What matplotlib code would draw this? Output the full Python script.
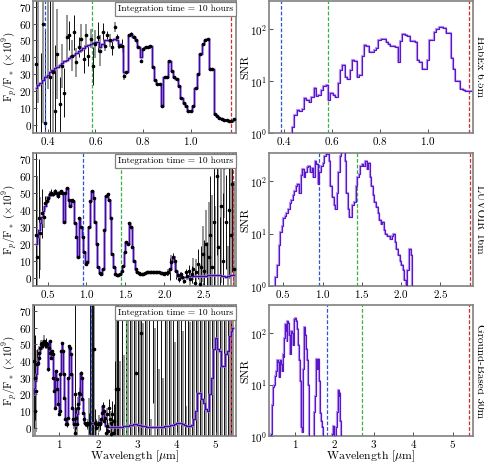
import numpy as np
import matplotlib
matplotlib.use('Agg')
import matplotlib.pyplot as plt
from matplotlib.ticker import NullLocator, FixedLocator

plt.rcParams.update({
    'font.family': 'serif',
    'font.serif': ['cmr10', 'DejaVu Serif'],
    'mathtext.fontset': 'cm',
    'axes.formatter.use_mathtext': True,
    'axes.unicode_minus': False,
    'font.size': 9,
})

# ---------------- HabEx 6.5m (bins from 0.35 um, 0.01 um wide) ----------------
hab_start, hab_step = 0.35, 0.01
hab_flux = [22, 23.5, 25, 26.5, 28, 29.5, 31, 32.5, 33.5, 34.5,
            35.5, 36.5, 37.5, 38.5, 39.5, 40.5, 41.5, 42.5, 43.5, 44.5,
            45.5, 46.5, 47.3, 48, 48.5, 49, 49, 46, 48, 50,
            50, 49.5, 50.5, 51, 50, 48, 47, 31, 31, 53,
            54, 52, 50, 46, 40, 45, 46, 46, 46.5, 34.5,
            26.5, 24, 24, 11, 28, 28, 38, 32, 28, 27,
            23, 16, 13, 11, 8, 8, 11, 22, 30, 42,
            48, 50.5, 51, 33, 33, 6, 5, 4, 3.5, 3,
            2.5, 2, 2, 3.5]
hab_snr = [0.3, 0.35, 0.4, 0.45, 0.5, 0.55, 0.6, 0.7, 0.85, 1.3,
           2.2, 2.8, 2.6, 2.9, 4.7, 4.3, 4.0, 5.0, 7.3, 5.2,
           5.5, 6.8, 8.0, 8.4, 4.3, 6.0, 5.5, 5.0, 9.0, 16,
           20, 12, 11, 16, 26, 24, 12, 13, 30, 50,
           48, 37, 36, 40, 44, 63, 65, 64, 57, 52,
           48, 48, 46, 23, 60, 80, 78, 75, 60, 58,
           57, 25, 23, 17, 17, 25, 62, 62, 90, 100,
           110, 108, 105, 85, 85, 28, 17, 10, 10, 7,
           6.6, 6.5, 6.5, 6.5]
hab_noisy_wl = [0.35, 0.36, 0.37, 0.38, 0.39, 0.40, 0.41, 0.42, 0.43, 0.44,
                0.45, 0.46, 0.47, 0.48, 0.49, 0.50, 0.51, 0.52, 0.53, 0.54,
                0.55, 0.56, 0.57, 0.58, 0.59, 0.60, 0.61, 0.62, 0.63, 0.64,
                0.65, 0.66, 0.67, 0.68, 0.69, 0.70, 0.72, 0.79]
hab_noisy_obs = [36, 80, -20, 60, 1, 75, 28, 31, 8, 42,
                 12, 35, 19, 52, 53, 41, 55, 37, 46, 51,
                 39, 53, 41, 51, 35, 48, 52, 44, 55, 47,
                 53, 50, 46, 58, 52, 47, 29, 38]

# ---------------- LUVOIR 16m (bins from 0.35 um, 0.02 um wide) ----------------
luv_start, luv_step = 0.35, 0.02
luv_flux = [20, 24, 28, 32, 36, 39, 42, 45, 47, 49,
            50, 49, 51, 50, 48, 50, 51, 50, 33, 50,
            53, 46, 42, 46, 45, 32, 24, 12, 35, 30,
            24, 15, 8, 9, 30, 45, 51, 47, 33, 20,
            6, 2.5, 2, 5, 28, 48, 49, 46, 35, 14,
            6, 2, 1.5, 1.5, 2, 4, 7, 15, 21, 20,
            32, 30, 18, 10, 5, 3, 2.5, 2, 2, 2,
            2.5, 3, 3.5, 3, 3, 3.5, 3, 3, 3, 3.5,
            2.5, 2.5, 2, 2.5, 2.5, 3, 5, 9, 12, 10,
            4, 1, 0.8, 0.5, 0.5, 0.5, 0.5, 0.5, 0.6, 0.7,
            0.7, 0.8, 0.8, 0.8, 0.8, 0.9, 0.9, 1, 1, 1,
            1.2, 1.3, 1.4, 1.5, 1.5, 1.5, 1.4, 1.3, 1.2, 1.0,
            0.8, 0.6, 0.5, 0.6, 0.8, 1.2, 1.3, 1.3]
luv_snr = [0.3, 0.5, 0.8, 1.5, 2.5, 6, 11, 14, 20, 22,
           25, 30, 38, 45, 55, 65, 80, 90, 60, 130,
           170, 120, 150, 190, 200, 150, 180, 120, 250, 220,
           90, 150, 200, 230, 300, 330, 330, 250, 80, 50,
           35, 30, 60, 150, 300, 360, 380, 250, 60, 30,
           21, 21, 35, 40, 80, 120, 140, 200, 220, 200,
           250, 170, 230, 120, 80, 55, 40, 33, 25, 18,
           15, 17, 12, 10, 9, 9, 8, 9, 10, 7,
           5, 4, 3, 2.5, 2, 1.3, 0.8, 2, 5, 4,
           0.8, 0.6, 0.5, 0.4, 0.3, 0.25, 0.22, 0.2, 0.18, 0.16,
           0.14, 0.12, 0.11, 0.1, 0.09, 0.08, 0.07, 0.06, 0.055, 0.05,
           0.045, 0.04, 0.04, 0.035, 0.035, 0.03, 0.03, 0.028, 0.025, 0.022,
           0.02, 0.02, 0.018, 0.018, 0.02, 0.025, 0.025, 0.025]
luv_noisy_wl = [0.35, 0.37, 0.39, 0.41, 0.43, 0.45, 0.47,
                2.17, 2.19, 2.21, 2.23, 2.25, 2.27, 2.29, 2.31, 2.33, 2.35,
                2.37, 2.39, 2.41, 2.43, 2.45, 2.47, 2.49, 2.51, 2.53, 2.55,
                2.57, 2.59, 2.61, 2.63, 2.65, 2.67, 2.69, 2.71, 2.73, 2.75,
                2.77, 2.79, 2.81, 2.83, 2.85, 2.87, 2.89]
luv_noisy_obs = [25, 12, 35, 26, 38, 36, 44,
                 1.5, -1, 2, 0.5, -2, 3, 1, 4, -1, 2,
                 5, -3, 3, 8, -4, 6, 14, 4, 20, -6,
                 12, 25, 6, 33, -8, 60, 18, -12, 42, 10,
                 65, 33, -15, 40, 25, 55, 5]

# ---------------- Ground-Based 30m ----------------
# segment 1: bins from 0.35 um, 0.02 um wide ; segment 2: from 2.50 um, 0.05 um wide
gb1_start, gb1_step = 0.35, 0.02
gb2_start, gb2_step = 2.50, 0.05
gb1_flux = [20, 24, 28, 32, 36, 39, 42, 45, 48, 50,
            49, 51, 50, 52, 50, 49, 51, 50, 35, 48,
            52, 45, 42, 46, 44, 30, 22, 12, 34, 29,
            23, 14, 8, 10, 32, 46, 51, 46, 32, 18,
            5, 2.5, 2, 6, 30, 49, 48, 44, 32, 12,
            5, 2, 1.5, 1.5, 2, 4, 8, 14, 21, 20,
            33, 30, 17, 9, 5, 3, 2.5, 2, 2, 2,
            2.5, 3, 3, 3, 3, 3, 3, 2.5, 2.5, 3,
            2.5, 2.5, 2, 2.5, 2.5, 3, 5, 9, 13, 10,
            4, 1.5, 1, 0.8, 0.6, 0.5, 0.5, 0.5, 0.5, 0.5,
            0.5, 0.5, 0.5, 0.5, 0.5, 0.5, 0.5, 0.5]
gb1_snr = [0.5, 0.8, 1.1, 1.3, 4, 9, 10, 11, 15, 18,
           30, 28, 20, 14, 30, 25, 18, 40, 35, 80,
           150, 110, 70, 170, 160, 90, 60, 40, 110, 100,
           60, 130, 190, 200, 170, 120, 80, 60, 30, 12,
           4.4, 1.5, 1.2, 20, 130, 100, 90, 50, 30, 10,
           3, 0.8, 0.02, 0.2, 0.3, 0.5, 0.9, 3, 6, 9,
           32, 20, 32, 12, 5, 2.8, 2.0, 1.5, 1.0, 0.6,
           0.4, 0.2, 0.02, 0.02, 0.02, 0.02, 0.02, 0.02, 0.3, 0.6,
           1.1, 1.6, 0.9, 0.5, 0.7, 1.5, 3, 8, 6, 7,
           2, 0.8, 0.3, 0.2, 0.15, 0.1, 0.1, 0.1, 0.08, 0.07,
           0.06, 0.06, 0.05, 0.05, 0.005, 0.005, 0.004, 0.004]
gb2_flux = [0.5, 0.5, 0.6, 0.8, 1.0, 1.2, 1.5, 1.8, 2.0, 2.0,
            1.8, 1.5, 1.2, 1.0, 0.8, 0.6, 0.5, 0.5, 0.5, 0.5,
            0.5, 0.5, 0.6, 0.7, 0.8, 1.0, 1.2, 1.5, 1.8, 2.2,
            2.6, 2.8, 2.6, 2.0, 1.5, 1.0, 0.8, 0.8, 1.5, 5,
            10, 21, 21, 17, 15, 11, 10, 20, 30, 47,
            54, 47, 46, 37, 37, 44, 46, 55, 58, 60]
gb2_snr = [0.004, 0.005, 0.004, 0.006, 0.005, 0.007, 0.008, 0.01, 0.012, 0.012,
           0.01, 0.009, 0.008, 0.007, 0.006, 0.005, 0.004, 0.004, 0.004, 0.004,
           0.004, 0.004, 0.005, 0.005, 0.006, 0.007, 0.008, 0.01, 0.012, 0.015,
           0.018, 0.02, 0.018, 0.014, 0.01, 0.007, 0.006, 0.006, 0.01, 0.03,
           0.06, 0.12, 0.12, 0.1, 0.09, 0.07, 0.06, 0.12, 0.18, 0.28,
           0.3, 0.27, 0.26, 0.2, 0.2, 0.25, 0.26, 0.3, 0.3, 0.3]
gb2_obs = [23, -60, 110, -90, 85, -45, 130, -70, 95, 33,
           -100, 150, 57, -80, 120, -55, 90, -120, 140, -65,
           100, -90, 80, -110, 125, -50, 105, -75, 135, -95,
           90, -60, 115, -85, 100, -130, 80, -70, 145, -50,
           120, -100, 90, -80, 130, -60, 110, -95, 150, -70,
           125, -55, 140, -85, 100, -110, 135, -75, 115, -90]
gb_noisy_wl = [0.35, 0.37, 0.39, 0.41, 0.43, 1.39, 1.41, 1.43, 1.45, 1.47,
               1.79, 1.81, 1.83, 1.85, 1.87, 1.89, 1.91, 1.93,
               2.17, 2.19, 2.21, 2.23, 2.25, 2.27, 2.29, 2.31, 2.33, 2.35,
               2.37, 2.39, 2.41, 2.43, 2.45, 2.47, 2.49]
gb_noisy_obs = [40, 10, 30, 22, 38, 20, -3, 6, 2, 12,
                120, -60, 100, -80, 90, 47, 3, 0,
                6, -3, 8, 1, -2, 12, 5, -4, 3, 8,
                -3, 4, 90, -60, 23, 95, -40]

# vertical reference wavelengths and axis ranges
hab_lines = [0.39, 0.585, 1.17]
luv_lines = [0.96, 1.44, 2.88]
gb_lines = [1.80, 2.70, 5.40]
line_colors = ['#2f55d4', '#3cb043', '#d42a2a']
names = ['HabEx 6.5m', 'LUVOIR 16m', 'Ground-Based 30m']
xlims = [(0.34, 1.19), (0.32, 2.92), (0.34, 5.52)]
xticks = [[0.4, 0.6, 0.8, 1.0], [0.5, 1.0, 1.5, 2.0, 2.5], [1, 2, 3, 4, 5]]


def make(start, step, flux, snr, nwl, nobs, extra=None):
    flux = np.asarray(flux, float)
    snr = np.asarray(snr, float)
    wl = start + step * np.arange(len(flux))
    obs = flux.copy()
    for w, o in zip(nwl, nobs):
        i = int(np.argmin(np.abs(wl - w)))
        obs[i] = o
    if extra is not None:
        s2, st2, f2, sn2, o2 = extra
        f2 = np.asarray(f2, float)
        wl = np.concatenate([wl, s2 + st2 * np.arange(len(f2))])
        flux = np.concatenate([flux, f2])
        snr = np.concatenate([snr, np.asarray(sn2, float)])
        obs = np.concatenate([obs, np.asarray(o2, float)])
    return wl, flux, snr, obs


panels = [
    make(hab_start, hab_step, hab_flux, hab_snr, hab_noisy_wl, hab_noisy_obs),
    make(luv_start, luv_step, luv_flux, luv_snr, luv_noisy_wl, luv_noisy_obs),
    make(gb1_start, gb1_step, gb1_flux, gb1_snr, gb_noisy_wl, gb_noisy_obs,
         extra=(gb2_start, gb2_step, gb2_flux, gb2_snr, gb2_obs)),
]
vlines = [hab_lines, luv_lines, gb_lines]

dark = '#3e0e96'
light = '#a781e6'
snr_dark = '#5a17c8'
snr_light = '#b592ee'

fig = plt.figure(figsize=(4.85, 4.65), dpi=100)
rows = [(0.714, 0.284), (0.385, 0.286), (0.062, 0.282)]


def style(ax):
    for sp in ax.spines.values():
        sp.set_color('0.5')
        sp.set_linewidth(1.2)
    ax.tick_params(direction='in', length=3, width=0.7, color='0.3', pad=1.5,
                   labelsize=8)


for k, (wl, flux, snr, obs) in enumerate(panels):
    b, h = rows[k]
    axl = fig.add_axes([0.069, b, 0.418, h])
    axr = fig.add_axes([0.555, b, 0.421, h])

    err = flux / snr
    idx = np.arange(len(wl))
    odd = idx % 2 == 1
    axl.errorbar(wl[odd], obs[odd], yerr=err[odd], fmt='none', ecolor='0.55',
                 elinewidth=1.3, zorder=1)
    axl.errorbar(wl[~odd], obs[~odd], yerr=err[~odd], fmt='none', ecolor='0.05',
                 elinewidth=0.7, zorder=1.1)
    axl.step(wl, flux, where='mid', color=light, lw=1.8, zorder=2)
    axl.step(wl, flux, where='mid', color=dark, lw=0.9, zorder=3)
    axl.plot(wl, obs, 'o', color='k', ms=1.6, zorder=4)
    for x, c in zip(vlines[k], line_colors):
        axl.axvline(x, color=c, ls=(0, (3, 1.5)), lw=0.9, zorder=2.5)
        axr.axvline(x, color=c, ls=(0, (3, 1.5)), lw=0.9, zorder=1)
    axl.set_xlim(*xlims[k])
    axl.set_ylim(-5, 73.5)
    axl.set_yticks([0, 10, 20, 30, 40, 50, 60, 70])
    axl.set_xticks(xticks[k])
    axl.set_ylabel(r'$\mathrm{F}_p/\mathrm{F}_*\ (\times 10^9)$', fontsize=8)
    style(axl)
    axl.tick_params(axis='y', pad=1)
    axl.yaxis.set_label_coords(-0.07, 0.5)
    axl.text(0.985, 0.972, 'Integration time = 10 hours', transform=axl.transAxes,
             ha='right', va='top', fontsize=6.8, zorder=10,
             bbox=dict(boxstyle='square,pad=0.3', fc='white', ec='0.5', lw=0.9))

    axr.step(wl, snr, where='mid', color=snr_light, lw=1.6, zorder=2)
    axr.step(wl, snr, where='mid', color=snr_dark, lw=0.8, zorder=3)
    axr.set_yscale('log')
    axr.set_ylim(1, 350)
    axr.yaxis.set_major_locator(FixedLocator([1, 10, 100]))
    axr.yaxis.set_minor_locator(NullLocator())
    axr.set_xlim(*xlims[k])
    axr.set_xticks(xticks[k])
    axr.set_ylabel('SNR', fontsize=8.5)
    axr.yaxis.set_label_coords(-0.092, 0.5)
    style(axr)
    fig.text(479.5 / 485, b + h / 2, names[k], rotation=270,
             ha='center', va='center', fontsize=8)

    if k == 2:
        axl.set_xlabel(r'Wavelength [$\mu$m]', fontsize=8.5, labelpad=-1)
        axr.set_xlabel(r'Wavelength [$\mu$m]', fontsize=8.5, labelpad=-1)

fig.savefig('out.png', dpi=100)
